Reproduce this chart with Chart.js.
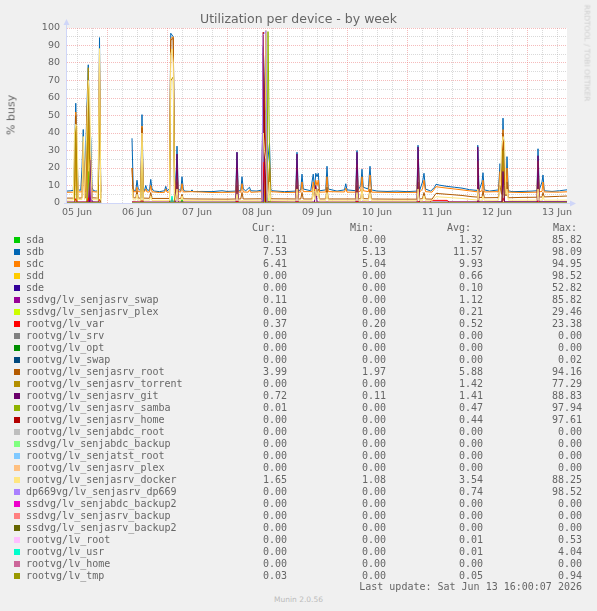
<!DOCTYPE html>
<html lang="en">
<head>
<meta charset="UTF-8">
<title>Utilization per device - by week</title>
<script src="https://cdn.jsdelivr.net/npm/chart.js"></script>
<style>
  body {margin: 0; background: #f0f0f0;}
  #wrap {position: relative; width: 597px; height: 611px; overflow: hidden; font-family: 'DejaVu Sans', sans-serif; color: #666;}
  #chart {position: absolute; left: 0; top: 0;}
  .t {position: absolute; white-space: pre;}
  .mono {font-family: 'DejaVu Sans Mono', monospace; font-size: 10px; line-height: 12px;}
  .sw {position: absolute; width: 6px; height: 6px;}
</style>
</head>
<body>
<div id="wrap">
  <canvas id="chart" width="597" height="230"></canvas>
  <div class="t" style="left:0;width:597px;text-align:center;top:12px;font-size:12.5px;line-height:14px;">Utilization per device - by week</div>
  <div class="t" style="left:11px;top:115px;font-size:11px;transform:translate(-50%,-50%) rotate(-90deg);">% busy</div>
  <div class="t" style="left:587px;top:53px;font-size:7.5px;color:#cfcfcf;transform:translate(-50%,-50%) rotate(90deg);">RRDTOOL / TOBI OETIKER</div>
  <div id="legend"></div>
  <div class="t mono" style="right:15px;top:581px;">Last update: Sat Jun 13 16:00:07 2026</div>
  <div class="t" style="left:0;width:597px;text-align:center;top:595px;font-size:7.5px;line-height:10px;color:#bbb;">Munin 2.0.56</div>
</div>
<script>
// x values are hours counted from 05 Jun 00:00; null = no data
const dayLabels = ['05 Jun', '06 Jun', '07 Jun', '08 Jun', '09 Jun', '10 Jun', '11 Jun', '12 Jun', '13 Jun'];
const yTicks = [0, 10, 20, 30, 40, 50, 60, 70, 80, 90, 100];

const seriesNames = ['sda', 'sdb', 'sdc', 'sdd', 'sde', 'ssdvg/lv_senjasrv_swap', 'ssdvg/lv_senjasrv_plex',
  'rootvg/lv_var', 'rootvg/lv_srv', 'rootvg/lv_opt', 'rootvg/lv_swap', 'rootvg/lv_senjasrv_root',
  'rootvg/lv_senjasrv_torrent', 'rootvg/lv_senjasrv_git', 'rootvg/lv_senjasrv_samba', 'rootvg/lv_senjasrv_home',
  'rootvg/lv_senjabdc_root', 'ssdvg/lv_senjabdc_backup', 'rootvg/lv_senjatst_root', 'rootvg/lv_senjasrv_plex',
  'rootvg/lv_senjasrv_docker', 'dp669vg/lv_senjasrv_dp669', 'ssdvg/lv_senjabdc_backup2', 'ssdvg/lv_senjasrv_backup',
  'ssdvg/lv_senjasrv_backup2', 'rootvg/lv_root', 'rootvg/lv_usr', 'rootvg/lv_home', 'rootvg/lv_tmp'];
const seriesColors = ['#00CC00', '#0066B3', '#FF8000', '#FFCC00', '#330099', '#990099', '#CCFF00',
  '#FF0000', '#808080', '#008F00', '#00487D', '#B35A00', '#B38F00', '#6B006B', '#8FB300', '#B30000',
  '#BEBEBE', '#80FF80', '#80C9FF', '#FFC080', '#FFE680', '#AA80FF', '#EE00CC', '#FF8080',
  '#666600', '#FFBFFF', '#00FFCC', '#CC6699', '#999900'];
const curVals = ['0.11', '7.53', '6.41', '0.00', '0.00', '0.11', '0.00', '0.37', '0.00', '0.00', '0.00', '3.99', '0.00', '0.72', '0.01', '0.00', '0.00', '0.00', '0.00', '0.00', '1.65', '0.00', '0.00', '0.00', '0.00', '0.00', '0.00', '0.00', '0.03'];
const minVals = ['0.00', '5.13', '5.04', '0.00', '0.00', '0.00', '0.00', '0.20', '0.00', '0.00', '0.00', '1.97', '0.00', '0.11', '0.00', '0.00', '0.00', '0.00', '0.00', '0.00', '1.08', '0.00', '0.00', '0.00', '0.00', '0.00', '0.00', '0.00', '0.00'];
const avgVals = ['1.32', '11.57', '9.93', '0.66', '0.10', '1.12', '0.21', '0.52', '0.00', '0.00', '0.00', '5.88', '1.42', '1.41', '0.47', '0.44', '0.00', '0.00', '0.00', '0.00', '3.54', '0.74', '0.00', '0.00', '0.00', '0.01', '0.01', '0.00', '0.05'];
const maxVals = ['85.82', '98.09', '94.95', '98.52', '52.82', '85.82', '29.46', '23.38', '0.00', '0.00', '0.02', '94.16', '77.29', '88.83', '97.94', '97.61', '0.00', '0.00', '0.00', '0.00', '88.25', '98.52', '0.00', '0.00', '0.00', '0.53', '4.04', '0.00', '0.94'];

const idle = [[8,0],[21.5,0],[22,null],[34,0],[208,0]];
const sdaPts = [[8,0.1],[16,0.1],[16.5,18],[17,0.1],[21.5,0.1],[22,null],[34,0.1],[49.5,0.1],[50,2.5],[50.5,0.1],[53.5,0.1],[54,2],[54.5,0.1],[86,0.1],[86.5,85.82],[87,12],[87.5,0.1],[208,0.11]];
const sdbPts = [[8,6.8],[9.5,7],[10.5,7.2],[11,25],[11.5,57],[12,28],[12.5,7.5],[13.5,7.3],[14,20],[14.5,42],[15,9],[15.5,30],[16,56],[16.5,79],[17,45],[17.5,37],[18,9],[18.5,7.2],[19.5,6.8],[20.5,7],[21,94.5],[21.5,6.5],[22,null],
  [34,37],[34.5,7.5],[35.5,7],[36,13],[36.5,8],[37.5,7],[38,50.5],[38.5,8],[39,7],[39.5,10],[40,7.5],[41,7.2],[41.5,13.5],[42,8],[43,6.8],[45,6.5],[47,7],[47.5,9.5],[48,7],[49,8],[49.5,97],[50.5,95],[51,20],[51.5,7],[52,32.5],[52.5,8],[53.5,7],[54,15],[54.5,8],[55,6.8],[57.5,6.6],[58,7.5],[58.5,6.5],[62,6.6],[66,6.5],[70,7],[72,6.6],
  [75.5,6.8],[76,29],[76.5,7],[77.5,7],[78,15],[78.5,8],[79.5,7],[81,9],[81.5,7],[84,6.8],[86,7.5],[86.5,90],[87,64],[87.5,50],[88,20],[89,34],[89.5,8],[90,7],[92,6.8],[95,6.5],
  [99.5,6.8],[100,29],[100.5,7],[101.5,7.5],[102,16.5],[102.5,8],[105.5,7],[106,12],[106.5,16.5],[107,8],[107.5,17],[108,15],[108.5,17],[109,7],[111.5,7.5],[112,21],[112.5,8],[116,6.8],[119,7.5],[119.5,11],[120,7.5],
  [123.5,7],[124,30],[124.5,7.5],[125.5,10],[126,19.3],[126.5,9],[128.5,8],[129.2,21],[129.8,7.5],[132,6.8],[136,6.6],[140,6.8],[144,6.5],[148,6.8],[148.4,33],[149,7],[150.2,12],[150.8,17],[151.4,8],[153.5,6.8],
  [155,9],[155.6,10.7],[157,10.2],[160,9.5],[163,9],[166,8.5],[169,7.6],[172,7.2],[172.3,33],[172.8,7],[174,12],[174.4,17.3],[174.9,7.5],[177,6.8],[180.6,7.5],[181.2,22.5],[181.8,12],[182.4,48.5],[183,20],[183.6,8],[184,26.5],[184.5,7],
  [186,6.5],[190,6.6],[194,6.8],[196,7],[196.4,31],[196.9,7.5],[198,12],[198.4,16],[198.9,7],[202,6.6],[205,7],[208,7.53]];
const sdcPts = [[8,6.1],[10.5,6.2],[11,6.3],[11.5,52],[12,20],[12.5,6.3],[14,6.4],[14.5,35],[15,6.5],[15.5,6.5],[16,50],[16.5,70],[17,30],[17.5,24],[18,6.5],[20.5,6.2],[21,86],[21.5,6],[22,null],
  [34,20],[34.5,6.5],[35.5,6.4],[36,9],[36.5,6.5],[37.5,6.4],[38,44],[38.5,6.5],[39,6.4],[39.5,8],[40,6.3],[41,6.3],[41.5,10],[42,6.4],[45,6],[47,6.1],[47.5,8],[48,6.2],[49,6.3],[49.5,94],[50.5,94.95],[51,15],[51.5,6.3],[52,20],[52.5,6.5],[53.5,6.3],[54,11],[54.5,6.3],[58,6.5],[66,6],[72,6.1],
  [75.5,6.2],[76,20],[76.5,6.3],[77.5,6.2],[78,11],[78.5,6.3],[80.5,6.2],[81,7.5],[81.5,6.1],[86,6.5],[86.5,60],[87,45],[87.5,35],[88,15],[88.5,8],[89,24],[89.5,6.5],[95,6],
  [99.5,6.1],[100,20],[100.5,6.2],[101.5,6.3],[102,12],[102.5,6.5],[106,6.5],[106.5,12],[107,7],[107.5,13],[108,10],[108.5,13],[109,6.2],[111.5,6.3],[112,15],[112.5,6.5],[119,6.3],[119.5,8.5],[120,6.2],
  [123.5,6.2],[124,22],[124.5,6.3],[125.5,7],[126,15],[126.5,7],[128.6,6.5],[129.2,16],[129.8,6.2],[140,6],[148,6.1],[148.4,25],[149,6.2],[150.2,8],[150.8,13],[151.4,6.5],[154,6.2],[155.6,9.3],[160,8.5],[166,7.5],
  [172,6.4],[172.3,24],[172.8,6.3],[174,7],[174.4,13],[174.9,6.3],[180.6,6.5],[181.2,18],[181.8,9],[182.4,42],[183,15],[183.6,7],[184,20],[184.5,6.2],[190,6],[196,6.2],[196.4,24],[196.9,6.4],[198,6.6],[198.4,12],[198.9,6.3],[205,6.2],[208,6.41]];
const sddPts = [[8,0],[11,0],[11.5,30],[12,0],[16,0],[16.5,45],[17,0],[21.5,0],[22,null],[34,0],[87,0],[87.5,98.52],[88,0],[182,0],[182.4,20],[183,0],[208,0]];
const sdePts = [[8,0],[21.5,0],[22,null],[34,0],[86.5,0],[87,52.82],[87.5,0],[208,0]];
const ssdSwapPts = [[8,0.1],[16.5,0.1],[17,11.6],[17.5,0.1],[21.5,0.1],[22,null],[34,0.1],[86,0.1],[86.5,85.82],[87,20],[87.5,0.1],[208,0.11]];
const ssdPlexPts = [[8,0],[21.5,0],[22,null],[34,0],[87.5,0],[88,29.46],[88.5,0],[208,0]];
const varPts = [[8,0.4],[11,0.4],[11.5,2.5],[12,0.5],[16,0.5],[16.5,3],[17,0.5],[20.5,0.4],[21,2],[21.5,0.4],[22,null],[34,0.6],[37.5,0.5],[38,1.5],[38.5,0.4],[49.5,0.4],[50,3],[50.5,0.4],[60,0.3],[75.5,0.3],[76,1.2],[76.5,0.4],
  [86,0.4],[86.5,23.38],[87,3],[87.5,0.5],[99.5,0.4],[100,1],[100.5,0.4],[123.5,0.4],[124,1.2],[124.5,0.4],[148,0.4],[148.4,1],[149,0.4],[153,0.5],[154,1.5],[160,1.5],[161,0.5],[172,0.4],[172.3,1.2],[172.8,0.4],
  [182,0.4],[182.4,3],[183,0.4],[196,0.4],[196.4,1.3],[197,0.4],[208,0.37]];
const lvSwapPts = [[8,0],[21.5,0],[22,null],[34,0],[86.5,0],[87,0.02],[87.5,0],[208,0]];
const rootPts = [[8,2.8],[11,2.8],[11.5,50],[12,15],[12.5,2.8],[14,2.9],[14.5,30],[15,3],[15.5,3],[16,52],[16.5,68],[17,25],[17.5,20],[18,3],[20.5,2.8],[21,80],[21.5,2.7],[22,null],
  [34,20],[34.5,3],[35.5,2.9],[36,7],[36.5,2.8],[37.5,2.8],[38,43],[38.5,2.8],[41,2.7],[41.5,6],[42,2.6],[49,2.6],[49.5,93],[50.5,94.16],[51,10],[51.5,2.6],[52,12],[52.5,2.5],[53.5,2.5],[54,5],[54.5,2.4],[60,2.3],[72,2.2],
  [75.5,2.3],[76,10],[76.5,2.3],[77.5,2.3],[78,6],[78.5,2.3],[86,2.4],[86.5,57],[87,40],[87.5,30],[88,10],[88.5,4],[89,20],[89.5,2.4],
  [99.5,2.3],[100,10],[100.5,2.3],[101.5,2.3],[102,6],[102.5,2.3],[106,2.3],[106.5,8],[107,3],[107.5,9],[108,5],[108.5,8],[109,2.3],[111.5,2.3],[112,9],[112.5,2.3],
  [123.5,2.3],[124,10],[124.5,2.3],[125.5,2.5],[126,8],[126.5,2.5],[128.6,2.4],[129.2,8],[129.8,2.3],[140,2.2],[148,2.2],[148.4,12],[149,2.3],[150.2,2.5],[150.8,6],[151.4,2.3],[154,2.2],[155.6,5.5],[160,5],[166,4.3],[170,3.6],
  [172,3.4],[172.3,12],[172.8,3.2],[174,3.1],[174.4,7],[174.9,3],[180.6,3.1],[181.2,10],[181.8,5],[182.4,40],[183,10],[183.6,4],[184,12],[184.5,3],[190,3.2],[196,3.3],[196.4,12],[196.9,3.4],[198,3.4],[198.4,6],[198.9,3.5],[205,3.8],[208,3.99]];
const torrentPts = [[8,0],[11,0],[11.5,44],[12,0],[16,0],[16.5,77.29],[17,0],[20.5,0],[21,60],[21.5,0],[22,null],[34,0],[37.5,0],[38,35],[38.5,0],[49,0],[49.5,70],[50.5,72],[51,0],[87,0],[87.5,20],[88,0],[182,0],[182.4,30],[183,0],[208,0]];
const gitPts = [[8,0.5],[17,0.5],[17.5,24.6],[18,0.6],[21.5,0.5],[22,null],[34,0.5],[51.5,0.5],[52,28],[52.5,0.5],[75.5,0.6],[76,29],[76.5,0.5],[86,0.5],[86.5,88.83],[87,30],[87.5,0.6],[99.5,0.5],[100,28],[100.5,0.5],
  [107,0.5],[107.5,10],[108,0.5],[123.5,0.5],[124,29],[124.5,0.5],[148,0.5],[148.4,32],[149,0.5],[172,0.6],[172.3,32],[172.8,0.6],[182,0.7],[182.4,18],[183,0.7],[196,0.7],[196.4,27],[196.9,0.7],[208,0.72]];
const sambaPts = [[8,0],[21.5,0],[22,null],[34,0],[88,0],[88.4,97.94],[88.9,40],[89.3,0],[208,0.01]];
const homePts = [[8,0],[21.5,0],[22,null],[34,0],[86,0],[86.5,97.61],[87,40],[87.5,0],[208,0]];
const dockerPts = [[8,1.6],[10.5,1.8],[11,40],[11.5,45],[12,44],[12.5,2],[14,2],[14.5,38],[15,2],[15.5,24],[16,45],[16.5,70],[17,65],[17.5,30],[18,2],[20,1.8],[20.5,20],[21,88.25],[21.5,1.8],[22,null],
  [34,8],[34.5,1.7],[35.5,1.7],[36,5],[36.5,1.6],[37.5,1.6],[38,40],[38.5,1.7],[41,1.6],[41.5,4],[42,1.5],[49,1.5],[49.5,85],[50,88],[50.5,80],[51,6],[51.5,1.5],[52,8],[52.5,1.4],[53.5,1.4],[54,4],[54.5,1.4],[72,1.3],
  [75.5,1.3],[76,5],[76.5,1.3],[86,1.3],[86.5,40],[87,30],[87.5,25],[88,8],[88.5,3],[89,12],[89.5,1.3],[99.5,1.3],[100,8],[100.5,1.3],[106,1.3],[106.5,8],[107,2],[107.5,8],[108,4],[108.5,7],[109,1.3],[111.5,1.3],[112,6],[112.5,1.3],
  [123.5,1.3],[124,6],[124.5,1.3],[125.5,1.4],[126,8],[126.5,1.4],[128.6,1.3],[129.2,6],[129.8,1.3],[148,1.3],[148.4,8],[149,1.3],[150.2,1.3],[150.8,4],[151.4,1.3],[154,1.3],[155.6,3.6],[160,3.2],[166,2.6],[170,2],
  [172,1.7],[172.3,8],[172.8,1.6],[174,1.6],[174.4,4],[174.9,1.6],[180.6,1.6],[181.2,10],[181.8,30],[182.4,38],[183,35],[183.6,5],[184,8],[184.5,1.6],[196,1.6],[196.4,8],[196.9,1.6],[198,1.6],[198.4,4],[198.9,1.6],[208,1.65]];
const dp669Pts = [[8,0],[21.5,0],[22,null],[34,0],[86,0],[86.4,96],[87,97],[87.6,98.52],[88,0],[208,0]];
const lvRootPts = [[8,0],[21.5,0],[22,null],[34,0],[86.5,0],[87,0.53],[87.5,0],[208,0]];
const lvUsrPts = [[8,0],[21.5,0],[22,null],[34,0],[49.5,0],[50,4.04],[50.5,0],[208,0]];
const lvTmpPts = [[8,0.05],[21.5,0.05],[22,null],[34,0.04],[86.5,0.04],[87,0.94],[87.5,0.04],[208,0.03]];

const seriesPoints = [sdaPts, sdbPts, sdcPts, sddPts, sdePts, ssdSwapPts, ssdPlexPts, varPts, idle, idle, lvSwapPts, rootPts,
  torrentPts, gitPts, sambaPts, homePts, idle, idle, idle, idle, dockerPts, dp669Pts, idle, idle, idle, lvRootPts, lvUsrPts, idle, lvTmpPts];

// grid every 6 hours, red line at midnight, label at noon
const gridHours = [];
for (let h = 12; h <= 204; h += 6) gridHours.push(h);

const gridMinor = 'rgba(170,170,170,0.45)';
const gridMajor = 'rgba(235,120,120,0.5)';
const axisCol = '#CFD6F8';

const canvasBg = {
  id: 'canvasBg',
  beforeDraw(chart) {
    const a = chart.chartArea, c = chart.ctx;
    c.save();
    c.fillStyle = '#fff';
    c.fillRect(a.left, a.top, a.right - a.left, a.bottom - a.top);
    c.restore();
  },
  afterDatasetsDraw(chart) {
    const a = chart.chartArea, c = chart.ctx;
    c.save();
    c.strokeStyle = axisCol;
    c.fillStyle = axisCol;
    c.lineWidth = 1;
    c.beginPath();
    c.moveTo(a.left - 0.5, a.bottom + 0.5);
    c.lineTo(a.left - 0.5, a.top - 4);
    c.moveTo(a.left - 3, a.bottom + 0.5);
    c.lineTo(a.right + 4, a.bottom + 0.5);
    c.stroke();
    c.beginPath();
    c.moveTo(a.left - 3.5, a.top - 3);
    c.lineTo(a.left + 2.5, a.top - 3);
    c.lineTo(a.left - 0.5, a.top - 9);
    c.fill();
    c.beginPath();
    c.moveTo(a.right + 3, a.bottom - 2.5);
    c.lineTo(a.right + 3, a.bottom + 3.5);
    c.lineTo(a.right + 9, a.bottom + 0.5);
    c.fill();
    c.restore();
  }
};

Chart.defaults.font.family = "'DejaVu Sans', sans-serif";
Chart.defaults.color = '#666';

new Chart(document.getElementById('chart'), {
  type: 'line',
  data: {
    datasets: seriesNames.map((name, i) => ({
      label: name,
      data: seriesPoints[i].map(p => ({x: p[0], y: p[1]})),
      borderColor: seriesColors[i],
      backgroundColor: seriesColors[i],
      borderWidth: 1,
      pointRadius: 0,
      tension: 0,
      spanGaps: false,
      order: seriesNames.length - 1 - i
    }))
  },
  options: {
    responsive: false,
    animation: false,
    devicePixelRatio: 1,
    layout: {padding: {top: 28, right: 30, left: 0, bottom: 0}},
    plugins: {legend: {display: false}, tooltip: {enabled: false}},
    scales: {
      x: {
        type: 'linear',
        min: 8,
        max: 208,
        afterBuildTicks: s => { s.ticks = gridHours.map(v => ({value: v})); },
        afterFit: s => { s.height = 27; },
        ticks: {
          autoSkip: false,
          maxRotation: 0,
          padding: 4,
          font: {size: 9.5},
          color: '#666',
          callback: v => (v - 12) % 24 === 0 ? dayLabels[(v - 12) / 24] : ''
        },
        grid: {
          drawTicks: false,
          color: ctx => (ctx.tick && ctx.tick.value % 24 === 0) ? gridMajor : gridMinor
        },
        border: {display: false, dash: [1, 1]}
      },
      y: {
        min: 0,
        max: 100,
        afterBuildTicks: s => {
          const t = [];
          yTicks.forEach(v => { t.push({value: v}); if (v < 100) t.push({value: v + 5}); });
          s.ticks = t;
        },
        afterFit: s => { s.width = 67; },
        ticks: {
          autoSkip: false,
          padding: 7,
          font: {size: 9.5},
          color: '#666',
          callback: v => yTicks.includes(v) ? String(v) : ''
        },
        grid: {
          drawTicks: false,
          color: ctx => (ctx.tick && ctx.tick.value % 10 === 0) ? gridMajor : gridMinor
        },
        border: {display: false, dash: [1, 1]}
      }
    }
  },
  plugins: [canvasBg]
});

// legend block below the graph
const legend = document.getElementById('legend');
const heads = [['Cur:', 252], ['Min:', 350], ['Avg:', 447], ['Max:', 553]];
let html = '';
heads.forEach(h => { html += '<div class="t mono" style="left:' + h[1] + 'px;top:222px;">' + h[0] + '</div>'; });
const cols = [[curVals, 287], [minVals, 386], [avgVals, 483], [maxVals, 582]];
seriesNames.forEach((name, i) => {
  const top = 234 + i * 12;
  html += '<div class="sw" style="left:14px;top:' + (top + 3) + 'px;background:' + seriesColors[i] + ';"></div>';
  html += '<div class="t mono" style="left:26px;top:' + top + 'px;">' + name + '</div>';
  cols.forEach(c => {
    html += '<div class="t mono" style="right:' + (597 - c[1]) + 'px;top:' + top + 'px;">' + c[0][i] + '</div>';
  });
});
legend.innerHTML = html;
</script>
</body>
</html>
